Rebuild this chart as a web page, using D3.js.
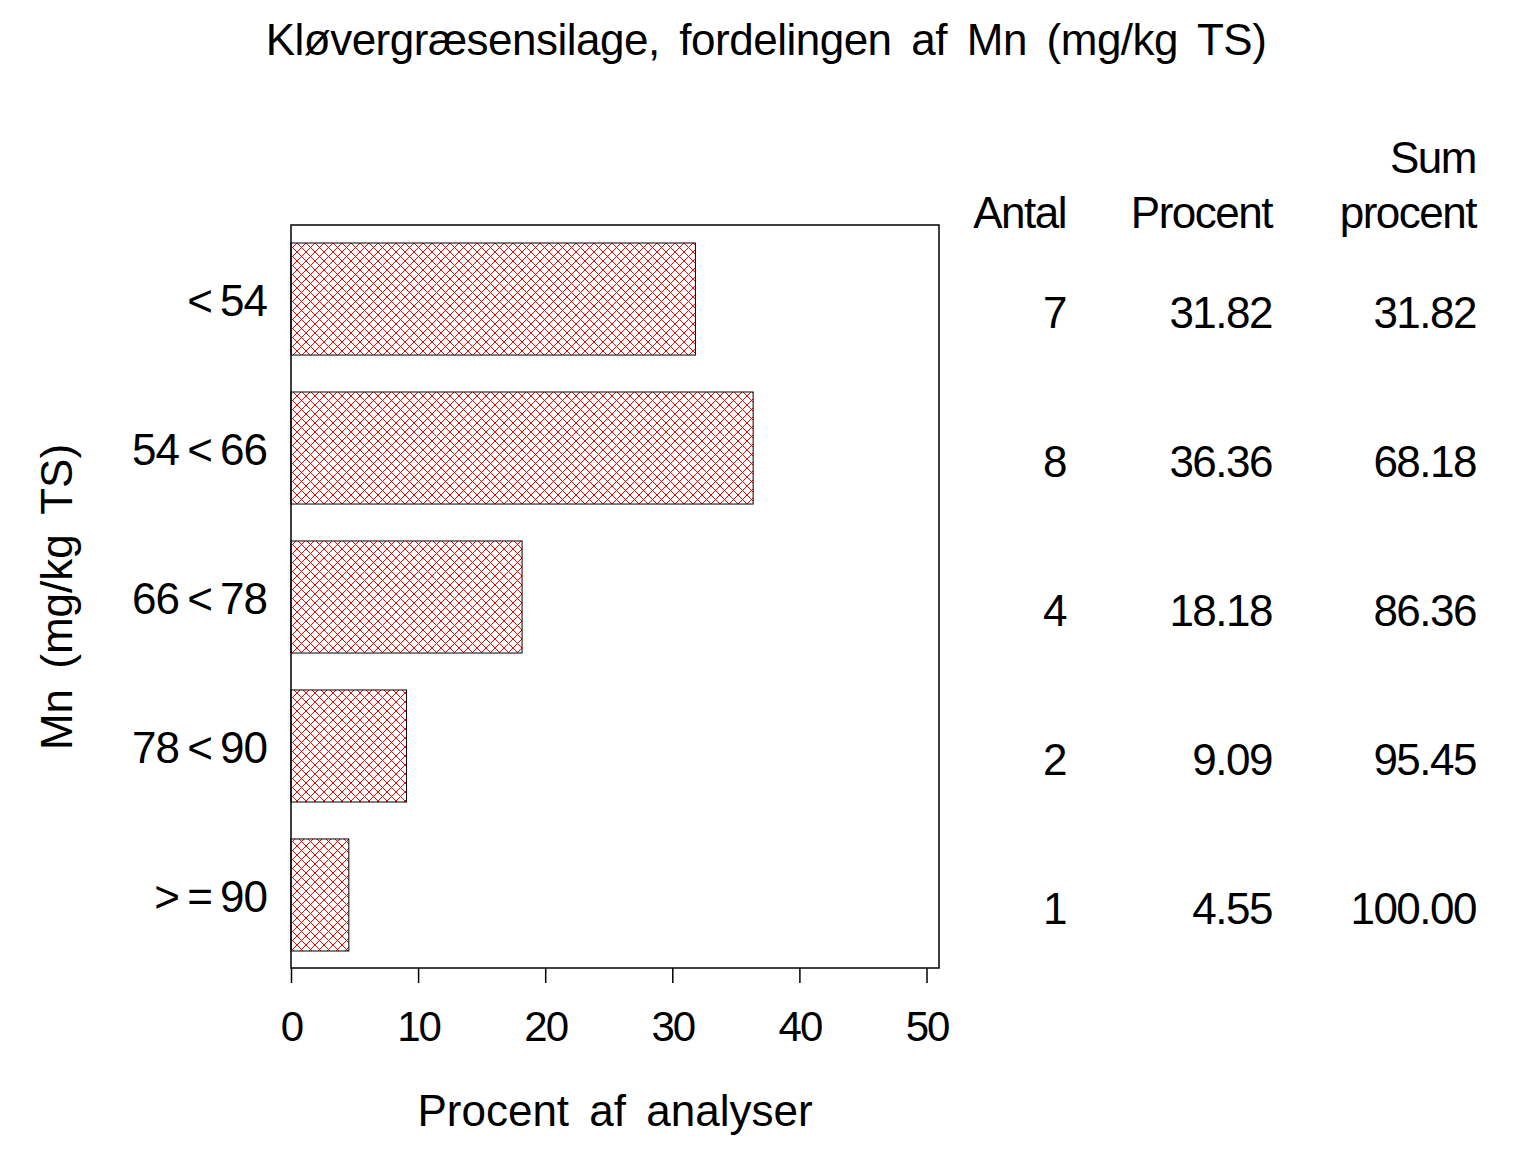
<!DOCTYPE html>
<html>
<head>
<meta charset="utf-8">
<script src="https://cdn.jsdelivr.net/npm/d3@7"></script>
<style>
  body { margin: 0; background: #fff; }
  svg { display: block; font-family: "Liberation Sans", Arial, sans-serif; }
</style>
</head>
<body>
<div id="chart"></div>
<script>
// data
const categories = ["< 54", "54 < 66", "66 < 78", "78 < 90", "> = 90"];
const percent = [31.82, 36.36, 18.18, 9.09, 4.55];
const antal = [7, 8, 4, 2, 1];
const sumPercent = [31.82, 68.18, 86.36, 95.45, 100.00];
const xTicks = [0, 10, 20, 30, 40, 50];

const width = 1536, height = 1152;
const frame = {left: 291, right: 939, top: 225, bottom: 968};

const svg = d3.select("#chart").append("svg")
  .attr("width", width).attr("height", height);

// red crosshatch
const pat = svg.append("defs").append("pattern")
  .attr("id", "hatch")
  .attr("patternUnits", "userSpaceOnUse")
  .attr("width", 9).attr("height", 9);
pat.append("path").attr("d", "M0,0 L9,9 M9,0 L0,9 M-1,8 L1,10 M8,-1 L10,1 M-1,1 L1,-1 M8,10 L10,8")
  .attr("stroke", "#ff0000").attr("stroke-width", 1).attr("fill", "none");

const x = d3.scaleLinear().domain([0, 50]).range([291, 926.5]);
const y = d3.scaleBand().domain(categories)
  .range([243, 951]).paddingInner(0.248).paddingOuter(0);

const rows = categories.map((c, i) => ({cat: c, pct: percent[i], n: antal[i], cum: sumPercent[i]}));

// frame
svg.append("rect")
  .attr("x", frame.left).attr("y", frame.top)
  .attr("width", frame.right - frame.left).attr("height", frame.bottom - frame.top)
  .attr("fill", "none").attr("stroke", "#000").attr("stroke-width", 1.5);

// bars
svg.selectAll("rect.bar").data(rows).join("rect")
  .attr("class", "bar")
  .attr("x", x(0))
  .attr("y", d => y(d.cat))
  .attr("width", d => x(d.pct) - x(0))
  .attr("height", y.bandwidth())
  .attr("fill", "url(#hatch)")
  .attr("stroke", "#000").attr("stroke-width", 1);

// x axis
const xAxis = svg.append("g")
  .attr("transform", `translate(0,${frame.bottom})`)
  .call(d3.axisBottom(x).tickValues(xTicks).tickSize(15).tickPadding(28).tickFormat(d3.format("d")));
xAxis.select(".domain").remove();
xAxis.selectAll("line").attr("stroke-width", 1.5);
xAxis.selectAll("text")
  .attr("font-size", 42).attr("fill", "#000")
  .attr("letter-spacing", -2)
  .attr("font-family", "Liberation Sans, Arial, sans-serif");

// category labels
svg.append("g").selectAll("text").data(rows).join("text")
  .attr("x", 267)
  .attr("y", d => y(d.cat) + y.bandwidth() / 2 + 17)
  .attr("text-anchor", "end")
  .attr("font-size", 44)
  .attr("letter-spacing", -1)
  .attr("word-spacing", -3)
  .text(d => d.cat);

// titles
svg.append("text")
  .attr("x", 766).attr("y", 55)
  .attr("text-anchor", "middle")
  .attr("font-size", 44)
  .attr("word-spacing", 8)
  .attr("letter-spacing", -0.5)
  .text("Kløvergræsensilage, fordelingen af Mn (mg/kg TS)");

svg.append("text")
  .attr("x", 615).attr("y", 1126)
  .attr("text-anchor", "middle")
  .attr("font-size", 44)
  .attr("word-spacing", 8)
  .text("Procent af analyser");

svg.append("text")
  .attr("transform", "translate(72,597) rotate(-90)")
  .attr("text-anchor", "middle")
  .attr("font-size", 44)
  .attr("word-spacing", 8)
  .text("Mn (mg/kg TS)");

// table
const cols = [
  {x: 1066, head: ["", "Antal"], val: d => String(d.n)},
  {x: 1272, head: ["", "Procent"], val: d => d.pct.toFixed(2)},
  {x: 1476, head: ["Sum", "procent"], val: d => d.cum.toFixed(2)}
];
const table = svg.append("g").attr("font-size", 44).attr("text-anchor", "end").attr("letter-spacing", -1.5);
cols.forEach(c => {
  table.append("text").attr("x", c.x).attr("y", 173).text(c.head[0]);
  table.append("text").attr("x", c.x).attr("y", 228).text(c.head[1]);
  table.selectAll(null).data(rows).join("text")
    .attr("x", c.x)
    .attr("y", d => y(d.cat) + y.bandwidth() / 2 + 29)
    .text(c.val);
});
</script>
</body>
</html>
